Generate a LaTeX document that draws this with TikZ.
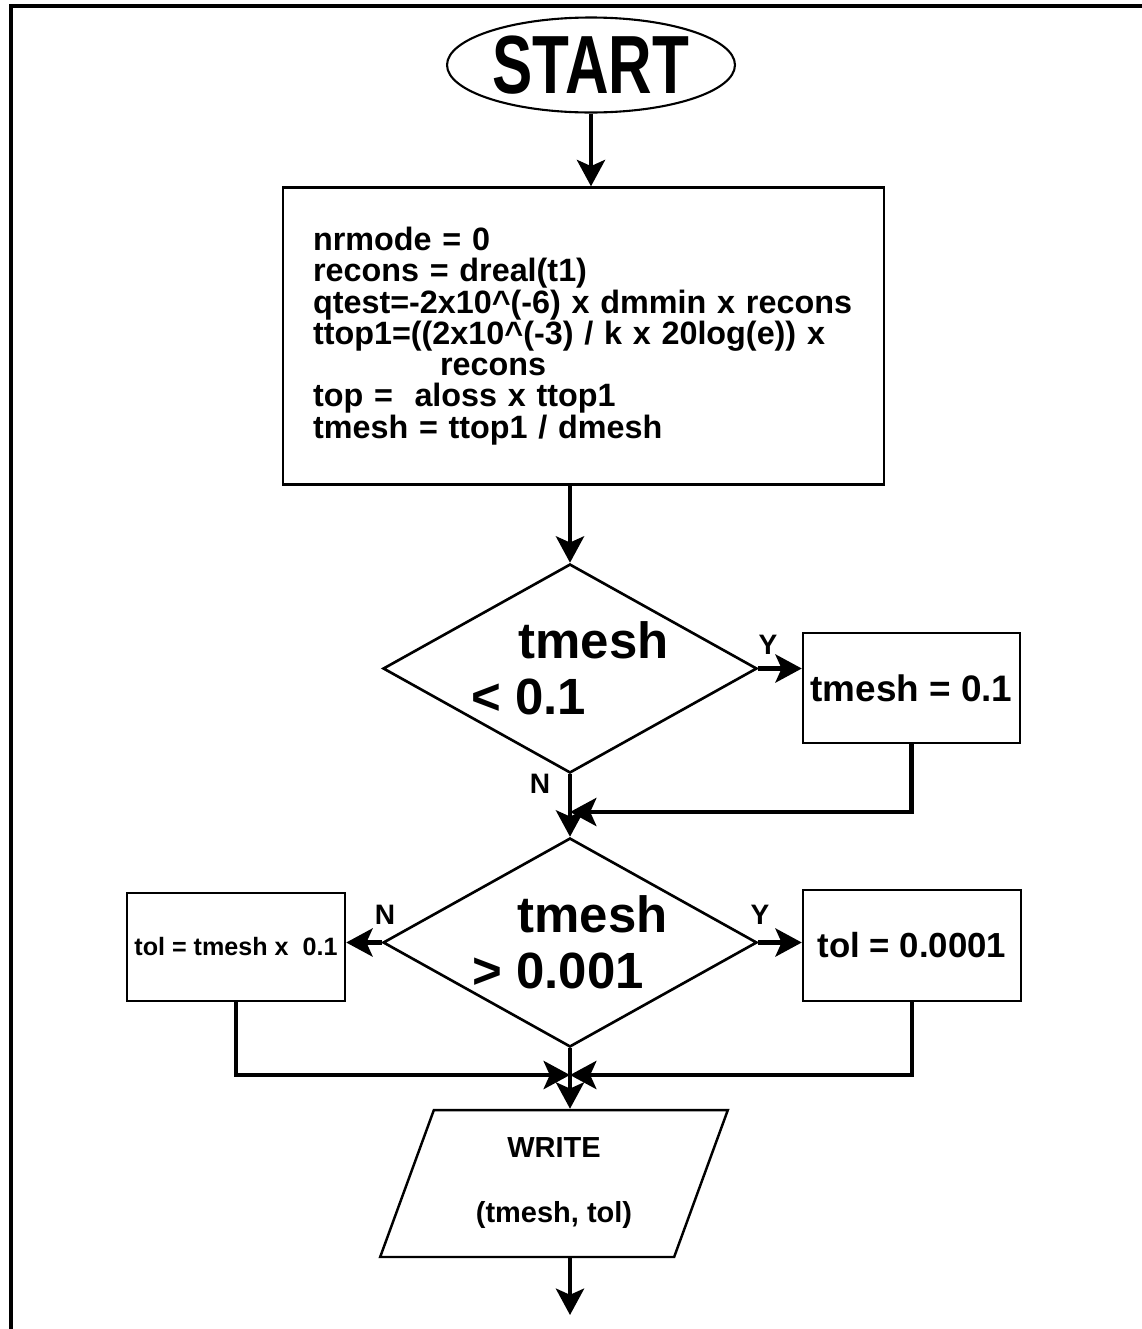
\documentclass[tikz,border=0pt]{standalone}
\usepackage{fontspec}
\setmainfont{Liberation Sans}
\usetikzlibrary{shapes.geometric,arrows.meta,positioning}

\begin{document}
\begin{tikzpicture}[
    x=0.02cm, y=-0.02cm,
    box/.style={rectangle, draw, line width=1.4pt, inner sep=0pt},
    terminal/.style={ellipse, draw, line width=1.2pt, minimum width=5.76cm, minimum height=1.9cm, inner sep=0pt},
    decision/.style={diamond, draw, line width=1.5pt, minimum width=7.48cm, minimum height=4.18cm, aspect=1.79, inner sep=0pt, align=left, font=\fontsize{29}{32}\selectfont\bfseries},
    io/.style={trapezium, trapezium left angle=69, trapezium right angle=111, trapezium stretches=true, draw, line width=1.4pt, minimum width=6.96cm, minimum height=2.94cm, inner sep=0pt, align=center, font=\fontsize{16.5}{19}\selectfont\bfseries},
    yn/.style={font=\fontsize{16}{18}\selectfont\bfseries},
    arrow/.style={-{Stealth[length=15pt,width=16pt,inset=3.5pt]}, line width=2.5pt},
    link/.style={line width=2.5pt}
]
\useasboundingbox (0,0) rectangle (1142,1329);

% Page frame
\draw[line width=2.2pt] (11,1329) -- (11,6) -- (1142,6);

% Start
\node[terminal] (start) at (591,65) {\fontsize{47}{50}\selectfont\bfseries\scalebox{0.73}[1]{START}};

% Initial settings
\node[box, minimum width=12.02cm, minimum height=5.94cm, text width=10.82cm, align=left, font=\fontsize{18.4}{17.8}\selectfont\bfseries] (init) at (583.5,336) {nrmode = 0\\
recons = dreal(t1)\\
qtest=-2x10\textasciicircum(-6) x dmmin x recons\\
ttop1=((2x10\textasciicircum(-3) / k x 20log(e)) x\\
\hspace*{2.54cm}recons\\
top =\ \ aloss x ttop1\\
tmesh = ttop1 / dmesh};

% First test
\node[decision] (test1) at (570,668.5) {\hspace*{0.94cm}tmesh\\< 0.1};
\node[box, minimum width=4.34cm, minimum height=2.2cm, font=\fontsize{21}{23}\selectfont\bfseries] (clamp) at (911.5,688) {tmesh = 0.1};

% Second test
\node[decision] (test2) at (570,942.5) {\hspace*{0.9cm}tmesh\\> 0.001};
\node[box, minimum width=4.36cm, minimum height=2.16cm, font=\fontsize{14.3}{17}\selectfont\bfseries] (tolsmall) at (236,947) {tol = tmesh x \ 0.1};
\node[box, minimum width=4.36cm, minimum height=2.22cm, font=\fontsize{19.8}{22}\selectfont\bfseries] (tolbig) at (912,945.5) {tol = 0.0001};

% Output
\node[io] (write) at (554,1183.5) {WRITE\\[18pt](tmesh, tol)};

% Branch labels
\node[yn] (y1) at (768,645) {Y};
\node[yn] (n1) at (540,784) {N};
\node[yn] (n2) at (385,915) {N};
\node[yn] (y2) at (760,915) {Y};

\coordinate (join1) at (570,812);
\coordinate (join2) at (570,1075);
\coordinate (stop) at (570,1315);

% Arrows
\draw[arrow] (start.south) -- (start.south |- init.north);
\draw[arrow] (init.south -| test1.north) -- (test1.north);
\draw[arrow] (test1.east) -- (test1.east -| clamp.west);
\draw[arrow] (clamp.south) |- (join1);
\draw[arrow] (test1.south) -- (test2.north);
\draw[arrow] (test2.west) -- (test2.west -| tolsmall.east);
\draw[arrow] (test2.east) -- (test2.east -| tolbig.west);
\draw[arrow] (tolsmall.south) |- (join2);
\draw[arrow] (tolbig.south) |- (join2);
\draw[link] (test2.south) -- (join2);
\draw[arrow] (join2) -- (join2 |- write.north);
\draw[arrow] (write.south -| join2) -- (stop);

\end{tikzpicture}
\end{document}
